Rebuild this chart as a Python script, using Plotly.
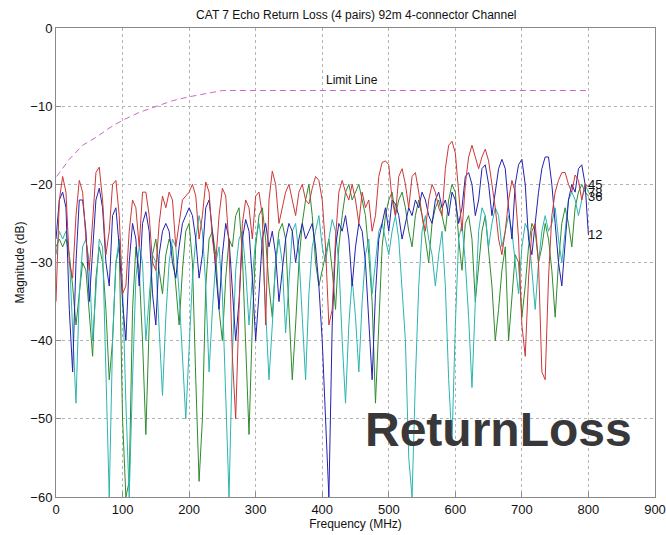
import plotly.graph_objects as go

freq_step = 5
freq = [i * freq_step for i in range(161)]

pair45 = [-35, -22, -19, -21, -30, -32, -24, -19.5, -21, -27, -31, -24, -18.5, -17.8, -22, -29, -26, -20, -19.5, -24,
          -34, -33, -26, -22, -23, -28, -21, -21, -24, -30, -31, -25, -21.5, -23, -21, -22, -28, -25, -22, -21.5,
          -21, -20, -21.5, -27, -24, -19.7, -21, -27, -30, -24, -20.5, -21.5, -28, -42, -50, -36, -25, -22, -23, -27,
          -21.5, -21, -24, -38, -22, -18.3, -20, -25, -23, -21, -20, -22, -24, -21, -20, -22, -22.5, -20.5, -19, -19.5,
          -22, -28, -38, -36, -27, -21, -19.5, -21, -22, -20, -22, -25, -21, -23, -22, -26, -24, -19, -17.2, -17,
          -17.5, -22, -24, -19, -18, -20, -23, -19, -18.5, -21, -24, -26, -22, -20, -21, -23, -24, -18, -15, -14.5,
          -16, -21, -26, -20, -16.5, -15, -16.5, -18, -16.5, -15.5, -17, -20, -23, -27, -29, -26, -22, -19.5, -21, -27,
          -38, -42, -32, -26, -25, -30, -44, -45, -32, -24, -21, -19.5, -18.5, -18.5, -20, -21, -18.8, -19.5, -22, -20,
          -20.3]

pair12 = [-27, -22, -21, -23, -36, -44, -30, -22, -22, -26, -35, -28, -22, -20.5, -23, -30, -33, -24, -23, -28,
          -35, -40, -30, -25, -27, -33, -25, -23.5, -26, -34, -38, -29, -26, -25, -26, -30, -32, -28, -25, -24,
          -23, -24, -27, -32, -29, -23, -22, -26, -31, -36, -29, -25, -27, -33, -40, -35, -27, -24.5, -26, -32,
          -40, -34, -27, -25, -28, -26, -29, -35, -31, -27, -25, -26, -30, -27, -25, -27, -26, -25, -28, -33,
          -40, -50, -60, -38, -28, -25, -26, -24, -27, -33, -28, -25, -26, -30, -38, -45, -34, -27, -25, -23,
          -26, -22, -22.5, -24, -27, -25, -23, -24, -22, -23, -21, -22, -24, -25, -22, -21, -23, -22, -24, -21,
          -22, -25, -23, -19, -18.5, -20, -24, -22, -18, -17.5, -20, -24, -21, -18, -16.8, -18, -23, -27, -20, -17.5,
          -16.8, -20, -27, -29, -25, -21, -18, -16.5, -16.5, -20, -25, -30, -33, -27, -22, -20, -21, -18, -17.5, -20,
          -26.5]

pair78 = [-28, -27, -28, -27, -29, -33, -38, -34, -30, -31, -37, -42, -32, -28, -30, -36, -45, -40, -30, -28,
          -50, -60, -58, -36, -28, -31, -40, -52, -38, -29, -27, -31, -34, -29, -27, -28, -33, -38, -31, -26,
          -25, -30, -45, -58, -50, -33, -27, -26, -29, -36, -40, -32, -27, -28, -24, -23, -29, -40, -52, -38,
          -28, -24, -23, -27, -33, -37, -30, -26, -25, -27, -36, -45, -38, -30, -25, -22, -20, -24, -30, -33,
          -31, -29, -27, -31, -36, -28, -24, -21, -20, -22, -21, -20, -22, -24, -29, -35, -48, -38, -28, -24,
          -22, -21, -24, -22, -21, -23, -26, -28, -24, -22, -24, -27, -30, -25, -23, -22, -24, -26, -22, -20,
          -21, -27, -31, -25, -24, -27, -35, -30, -26, -24, -29, -33, -40, -36, -31, -28, -40, -35, -29, -30,
          -37, -33, -28, -25, -26, -30, -28, -25, -27, -31, -37, -30, -25, -23, -25, -28, -23, -21, -20, -21,
          -21.5]

pair36 = [-29, -26, -27, -26, -29, -38, -48, -34, -28, -27, -30, -40, -33, -27, -28, -45, -60, -40, -30, -27,
          -33, -48, -60, -45, -32, -28, -30, -40, -35, -29, -30, -38, -47, -37, -30, -27, -28, -34, -43, -50,
          -41, -32, -27, -24, -26, -33, -44, -36, -30, -28, -34, -48, -60, -42, -31, -27, -26, -31, -38, -32,
          -27, -25, -28, -36, -45, -38, -30, -27, -30, -39, -32, -26, -25, -29, -37, -45, -34, -28, -26, -24,
          -28, -30, -27, -24.5, -26, -30, -40, -48, -38, -32, -37, -44, -35, -29, -27, -34, -30, -26, -25, -27,
          -29, -26, -24, -27, -33, -40, -55, -60, -45, -33, -26, -24, -27, -29, -33, -29, -26, -33, -45, -53,
          -38, -27, -25, -30, -37, -46, -35, -26, -23, -24, -28, -25, -23, -24, -28, -26, -24, -26, -30, -34,
          -28, -25, -26, -31, -36, -30, -26, -24, -26, -25, -23, -27, -30, -26, -22, -21, -22, -24, -22, -20,
          -21]

limit_freq = [1, 10, 20, 40, 60, 80, 100, 125, 150, 175, 200, 225, 250, 800]
limit_db = [-19, -18, -16.8, -15, -14, -12.8, -11.8, -10.8, -10, -9.3, -8.8, -8.4, -8, -8]

end_labels = ["45", "78", "36", "12"]
end_label_y = [-20.0, -21.0, -21.6, -26.4]

x_ticks = [0, 100, 200, 300, 400, 500, 600, 700, 800, 900]
y_ticks = [0, -10, -20, -30, -40, -50, -60]

FONT = "Liberation Sans, Arial, sans-serif"

fig = go.Figure()
series = [
    (pair78, "#2e8b2e"),
    (pair36, "#2bb5b0"),
    (pair12, "#2222b0"),
    (pair45, "#cc3838"),
]
for vals, col in series:
    fig.add_trace(go.Scatter(x=freq, y=vals, mode="lines",
                             line=dict(color=col, width=1), showlegend=False,
                             hoverinfo="skip"))

fig.add_trace(go.Scatter(x=limit_freq, y=limit_db, mode="lines",
                         line=dict(color="#cc66cc", width=1, dash="6px,4px"),
                         showlegend=False, hoverinfo="skip"))

for t, yv in zip(end_labels, end_label_y):
    fig.add_annotation(x=796, y=yv, text=t, showarrow=False, xanchor="left",
                       yanchor="middle", font=dict(family=FONT, size=13, color="#111"))

fig.add_annotation(x=445, y=-6.6, text="Limit Line", showarrow=False,
                   xanchor="center", yanchor="middle",
                   font=dict(family=FONT, size=12, color="#111"))

fig.add_annotation(x=0.738, y=0.143, xref="paper", yref="paper", text="<b>ReturnLoss</b>",
                   showarrow=False, xanchor="center", yanchor="middle",
                   font=dict(family=FONT, size=48, color="#38383a"))

axis_common = dict(showline=True, linecolor="#8a8a8a", linewidth=1, mirror=True,
                   showgrid=True, gridcolor="#b4b4b4", griddash="dot", gridwidth=1,
                   ticks="inside", ticklen=5, tickcolor="#8a8a8a", zeroline=False,
                   automargin=False,
                   tickfont=dict(family=FONT, size=13, color="#111"))

fig.update_layout(
    width=666, height=535,
    margin=dict(l=56, r=11, t=28, b=38),
    paper_bgcolor="white", plot_bgcolor="white",
    title=dict(text="CAT 7 Echo Return Loss (4 pairs) 92m 4-connector Channel",
               x=0.535, xanchor="center", y=0.973, yanchor="middle",
               font=dict(family=FONT, size=12, color="#111")),
    xaxis=dict(range=[0, 900], tickvals=x_ticks, **axis_common,
               title=dict(text="Frequency (MHz)", standoff=2,
                          font=dict(family=FONT, size=12, color="#111"))),
    yaxis=dict(range=[-60, 0], tickvals=y_ticks, **axis_common,
               title=dict(text="Magnitude (dB)", standoff=3,
                          font=dict(family=FONT, size=12, color="#111"))),
)

fig.write_html("out.html")
